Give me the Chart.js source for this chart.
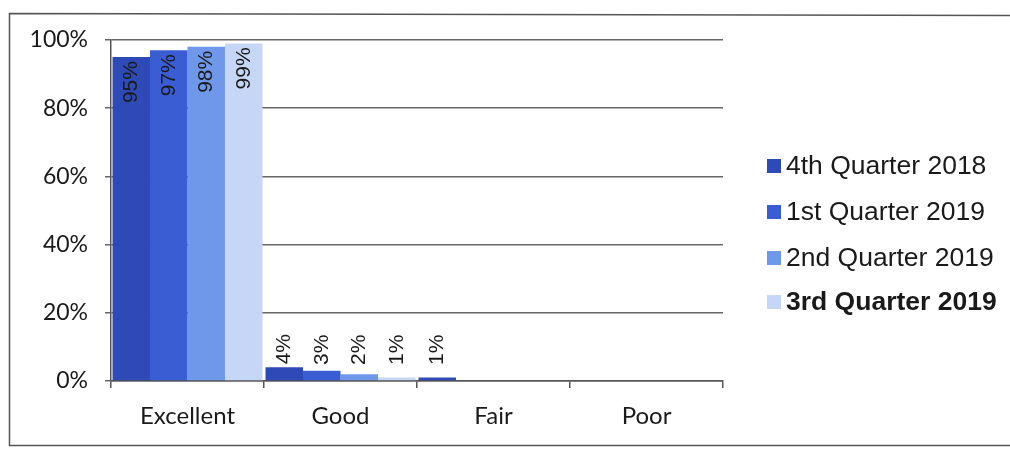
<!DOCTYPE html>
<html>
<head>
<meta charset="utf-8">
<style>
html,body{margin:0;padding:0;background:#fff;}
#wrap{width:1010px;height:449px;position:relative;}
canvas{display:block;}
</style>
<script src="https://cdn.jsdelivr.net/npm/chart.js@4/dist/chart.umd.min.js"></script>
</head>
<body>
<div id="wrap"><canvas id="c" width="1010" height="449"></canvas></div>
<script>
const categories = ['Excellent', 'Good', 'Fair', 'Poor'];
const seriesNames = ['4th Quarter 2018', '1st Quarter 2019', '2nd Quarter 2019', '3rd Quarter 2019'];
const q4_2018 = [95, 4, 1, 0];
const q1_2019 = [97, 3, 0, 0];
const q2_2019 = [98, 2, 0, 0];
const q3_2019 = [99, 1, 0, 0];
const yTicks = [0, 20, 40, 60, 80, 100];
const seriesColors = ['#2e4ab6', '#3a5dd4', '#6f98ea', '#c6d6f6'];

const frame = {
  id: 'frame',
  beforeDraw(chart) {
    const ctx = chart.ctx;
    ctx.save();
    ctx.fillStyle = '#fff';
    ctx.fillRect(0, 0, chart.width, chart.height);
    ctx.strokeStyle = '#555';
    ctx.lineWidth = 1.5;
    ctx.beginPath();
    ctx.moveTo(1012, 15.5);
    ctx.lineTo(9.5, 13.5);
    ctx.lineTo(9.5, 445.5);
    ctx.lineTo(1012, 445.5);
    ctx.stroke();
    ctx.restore();
  }
};

const labels = {
  id: 'barLabels',
  afterDatasetsDraw(chart) {
    const ctx = chart.ctx;
    const base = chart.scales.y.getPixelForValue(0);
    ctx.save();
    ctx.font = '21px "Liberation Sans", Arial, sans-serif';
    ctx.fillStyle = '#1a1a1a';
    ctx.textBaseline = 'middle';
    chart.data.datasets.forEach((ds, di) => {
      const meta = chart.getDatasetMeta(di);
      meta.data.forEach((el, i) => {
        const v = ds.data[i];
        if (!v) return;
        const txt = v + '%';
        ctx.save();
        if (v > 50) {
          ctx.translate(el.x, el.y + 4);
          ctx.rotate(-Math.PI / 2);
          ctx.textAlign = 'right';
          ctx.fillText(txt, 0, 0);
        } else {
          const yStart = Math.min(el.y - 3, base - 16);
          ctx.translate(el.x, yStart);
          ctx.rotate(-Math.PI / 2);
          ctx.textAlign = 'left';
          ctx.fillText(txt, 0, 0);
        }
        ctx.restore();
      });
    });
    ctx.restore();
  }
};

const legend = {
  id: 'customLegend',
  afterDraw(chart) {
    const ctx = chart.ctx;
    const rows = [166, 212, 258, 302];
    ctx.save();
    ctx.textBaseline = 'middle';
    ctx.textAlign = 'left';
    chart.data.datasets.forEach((ds, i) => {
      const y = rows[i];
      ctx.fillStyle = ds.backgroundColor;
      ctx.fillRect(767, y - 7, 14, 14);
      ctx.fillStyle = '#1a1a1a';
      ctx.font = (i === 3 ? 'bold ' : '') + '26.5px "Liberation Sans", Arial, sans-serif';
      ctx.fillText(ds.label, 786, y + 1);
    });
    ctx.restore();
  }
};

const seriesData = [q4_2018, q1_2019, q2_2019, q3_2019];

new Chart(document.getElementById('c'), {
  type: 'bar',
  data: {
    labels: categories,
    datasets: seriesNames.map((n, i) => ({
      label: n,
      data: seriesData[i],
      backgroundColor: seriesColors[i],
      borderWidth: 0,
      categoryPercentage: 0.98,
      barPercentage: 1.0
    }))
  },
  options: {
    responsive: false,
    animation: false,
    devicePixelRatio: 1,
    layout: { padding: { left: 0, top: 40, right: 287, bottom: 0 } },
    plugins: { legend: { display: false }, tooltip: { enabled: false } },
    scales: {
      x: {
        offset: true,
        grid: { display: true, offset: true, drawOnChartArea: false, drawTicks: true, tickLength: 7, color: '#555', lineWidth: 1.5 },
        border: { display: true, color: '#555', width: 1.5 },
        ticks: { color: '#1a1a1a', font: { family: 'Lato', size: 24 }, padding: 14, maxRotation: 0 },
        afterFit(s) { s.height = 68; }
      },
      y: {
        min: 0, max: 100,
        afterBuildTicks(s) { s.ticks = yTicks.map(v => ({ value: v })); },
        grid: { color: '#666', lineWidth: 1.5, tickLength: 6, drawTicks: true },
        border: { display: true, color: '#555', width: 1.5 },
        ticks: { color: '#1a1a1a', font: { family: 'Lato', size: 23 }, padding: 17, callback: v => v + '%' },
        afterFit(s) { s.width = 111; }
      }
    }
  },
  plugins: [frame, labels, legend]
});
</script>
</body>
</html>
